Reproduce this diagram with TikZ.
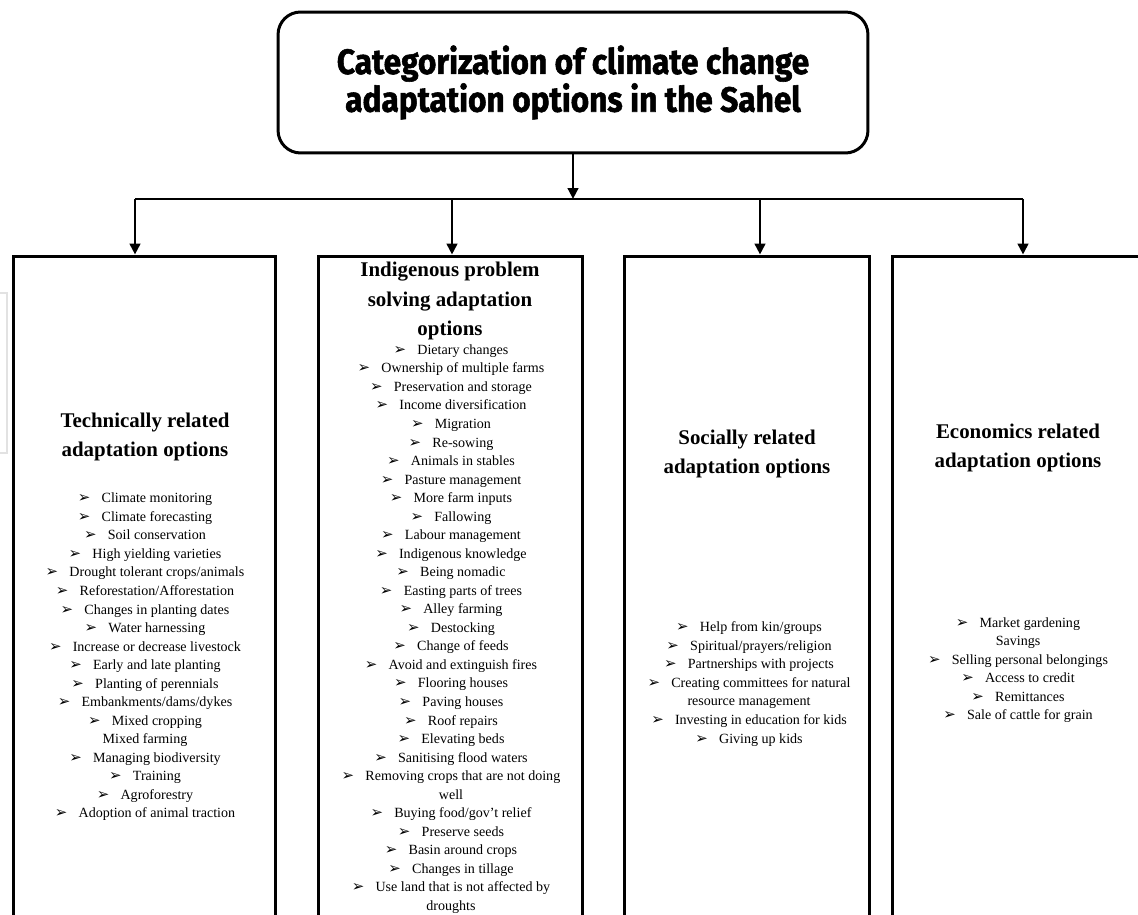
\documentclass[tikz,border=0pt]{standalone}
\usepackage{fontspec}
\setmainfont{Liberation Serif}
\newfontfamily\titlefont{Fira Sans}[BoldFeatures={FakeBold=1.6}]
\newfontfamily\arrowfont{DejaVu Sans}
\usepackage{graphicx}
\usetikzlibrary{arrows.meta,positioning}
\definecolor{boxInk}{RGB}{0,0,0}
\definecolor{strayGrey}{RGB}{226,226,226}
\newcommand{\narrow}[1]{\scalebox{0.9}[1]{#1}}
\newcommand{\itm}[1]{{\arrowfont\fontsize{8.5}{8.5}\selectfont ➢}\hspace{0.8em}#1}
\tikzset{
  titlebox/.style={draw=boxInk, line width=1.7pt, rounded corners=0.45cm, align=center, minimum width=11.8cm, minimum height=2.82cm, font=\titlefont\bfseries\fontsize{20}{21.5}\selectfont},
  catbox/.style={draw=boxInk, line width=1.7pt, minimum height=14.88cm, inner sep=0pt},
  headtext/.style={align=center, inner sep=0pt, font=\bfseries\fontsize{11.9}{17}\selectfont},
  listtext/.style={align=center, inner sep=0pt, font=\fontsize{8}{10.55}\selectfont},
  line/.style={draw=boxInk, line width=1.6pt},
  flow/.style={line, -{Triangle[length=2.2mm, width=2.1mm]}}
}

\begin{document}
\begin{tikzpicture}[x=0.02cm, y=-0.02cm]
        \path[use as bounding box, fill=white] (0,0) rectangle (1138,915);
        \clip (0,0) rectangle (1138,915);
        \node[titlebox] (title) at (573,82.5) {\narrow{Categorization of climate change}\\\narrow{adaptation options in the Sahel}};
        \node[catbox, minimum width=5.26cm] (tech) at (144.5,628) {};
        \node[catbox, minimum width=5.30cm] (indig) at (450.5,628) {};
        \node[catbox, minimum width=4.92cm] (social) at (747,628) {};
        \node[catbox, minimum width=5.04cm] (econ) at (1018,628) {};
        \coordinate (bus) at (573,199);
        \coordinate (d1) at (135,199);
        \coordinate (d2) at (452,199);
        \coordinate (d3) at (760,199);
        \coordinate (d4) at (1023,199);
        \draw[flow] (title.south) -- (bus);
        \draw[line] (d1) -- (d4);
        \draw[flow] (d1) -- (d1 |- tech.north);
        \draw[flow] (d2) -- (d2 |- indig.north);
        \draw[flow] (d3) -- (d3 |- social.north);
        \draw[flow] (d4) -- (d4 |- econ.north);
        \node[headtext] (techhead) at (145,437) {Technically related\\adaptation options};
        \node[headtext] (indighead) at (450,301) {Indigenous problem\\solving adaptation\\options};
        \node[headtext] (socialhead) at (747,454) {Socially related\\adaptation options};
        \node[headtext] (econhead) at (1018,448) {Economics related\\adaptation options};
        \node[listtext] (techlist) at (145,657) {\itm{Climate monitoring}\\\itm{Climate forecasting}\\\itm{Soil conservation}\\\itm{High yielding varieties}\\\itm{Drought tolerant crops/animals}\\\itm{Reforestation/Afforestation}\\\itm{Changes in planting dates}\\\itm{Water harnessing}\\\itm{Increase or decrease livestock}\\\itm{Early and late planting}\\\itm{Planting of perennials}\\\itm{Embankments/dams/dykes}\\\itm{Mixed cropping}\\Mixed farming\\\itm{Managing biodiversity}\\\itm{Training}\\\itm{Agroforestry}\\\itm{Adoption of animal traction}};
        \node[listtext] (indiglist) at (451,629) {\itm{Dietary changes}\\\itm{Ownership of multiple farms}\\\itm{Preservation and storage}\\\itm{Income diversification}\\\itm{Migration}\\\itm{Re-sowing}\\\itm{Animals in stables}\\\itm{Pasture management}\\\itm{More farm inputs}\\\itm{Fallowing}\\\itm{Labour management}\\\itm{Indigenous knowledge}\\\itm{Being nomadic}\\\itm{Easting parts of trees}\\\itm{Alley farming}\\\itm{Destocking}\\\itm{Change of feeds}\\\itm{Avoid and extinguish fires}\\\itm{Flooring houses}\\\itm{Paving houses}\\\itm{Roof repairs}\\\itm{Elevating beds}\\\itm{Sanitising flood waters}\\\itm{Removing crops that are not doing}\\well\\\itm{Buying food/gov’t relief}\\\itm{Preserve seeds}\\\itm{Basin around crops}\\\itm{Changes in tillage}\\\itm{Use land that is not affected by}\\droughts};
        \node[listtext] (sociallist) at (749,684) {\itm{Help from kin/groups}\\\itm{Spiritual/prayers/religion}\\\itm{Partnerships with projects}\\\itm{Creating committees for natural}\\resource management\\\itm{Investing in education for kids}\\\itm{Giving up kids}};
        \node[listtext] (econlist) at (1018,670) {\itm{Market gardening}\\Savings\\\itm{Selling personal belongings}\\\itm{Access to credit}\\\itm{Remittances}\\\itm{Sale of cattle for grain}};
        \draw[strayGrey, line width=0.8pt] (0,293) -- (7,293) -- (7,453) -- (0,453);
      \end{tikzpicture}
\end{document}
